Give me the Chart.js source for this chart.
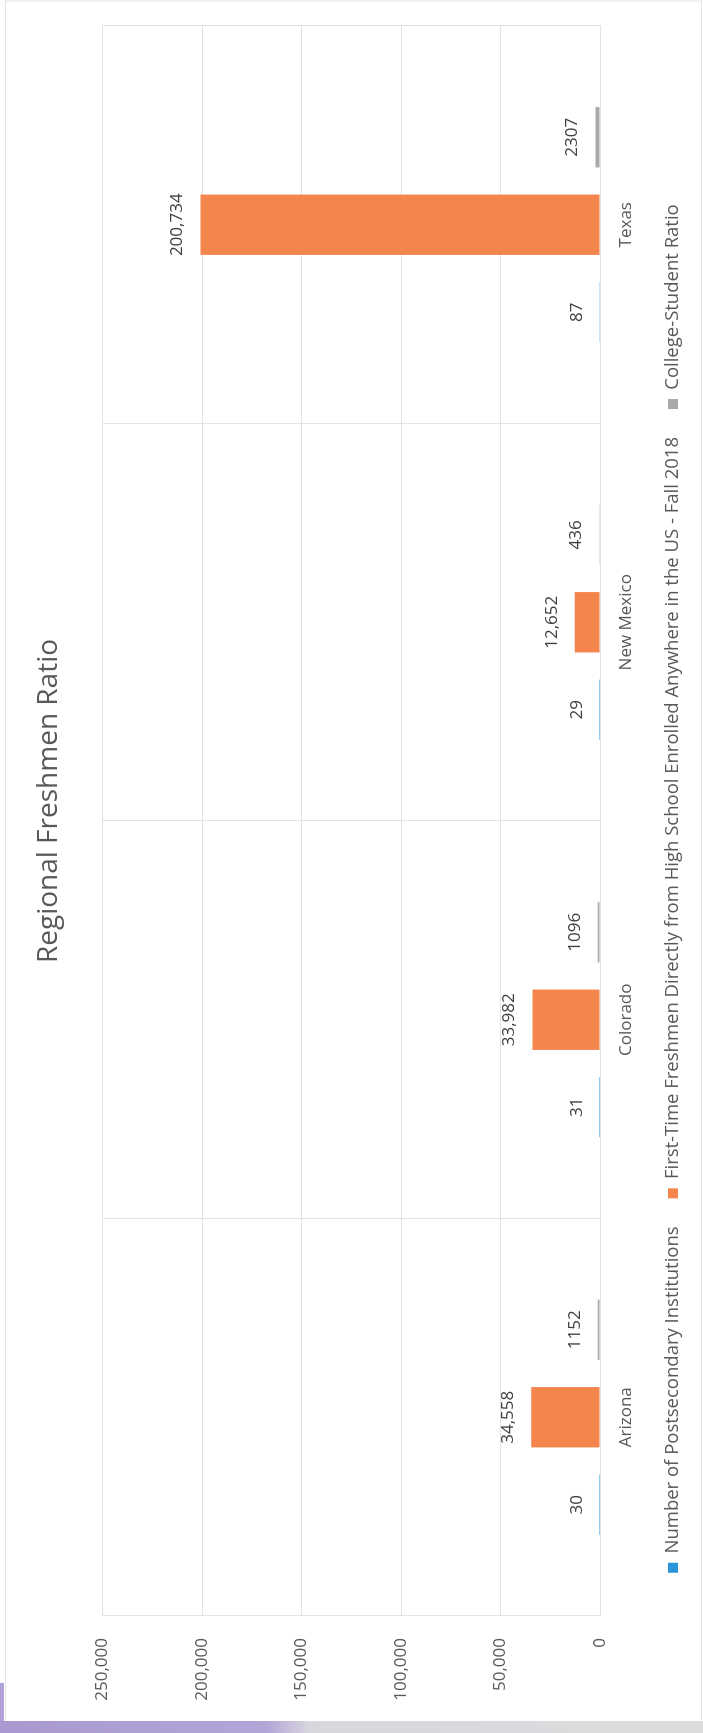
<!DOCTYPE html>
<html>
<head>
<meta charset="utf-8">
<title>Regional Freshmen Ratio</title>
<script src="https://cdn.jsdelivr.net/npm/chart.js@4.4.1/dist/chart.umd.min.js"></script>
<style>
  html, body {
    margin: 0;
    padding: 0;
    background: #ffffff;
    width: 703px;
    height: 1733px;
    overflow: hidden;
  }
  /* the chart is laid out landscape and turned a quarter turn to fit the page */
  #sheet {
    position: absolute;
    left: 0;
    top: 0;
    width: 1733px;
    height: 703px;
    transform-origin: 0 0;
    transform: translate(0, 1733px) rotate(-90deg);
  }
  #edge {
    position: absolute;
    left: 0;
    bottom: 0;
    width: 703px;
    height: 12px;
    background: linear-gradient(90deg, #a898cf 0, #b3a5d8 38%, #d9d6de 44%, #dcdcdc 100%);
  }
  #edgeSide {
    position: absolute;
    left: 0;
    bottom: 12px;
    width: 4px;
    height: 38px;
    background: #b0a2d6;
  }
</style>
</head>
<body>
<div id="sheet">
  <canvas id="freshmenChart" width="1733" height="703"></canvas>
</div>
<div id="edgeSide"></div>
<div id="edge"></div>

<script>
const states = ['Arizona', 'Colorado', 'New Mexico', 'Texas'];
const institutions = [30, 31, 29, 87];
const firstTimeFreshmen = [34558, 33982, 12652, 200734];
const collegeStudentRatio = [1152, 1096, 436, 2307];
const valueTicks = [0, 50000, 100000, 150000, 200000, 250000];

const textGray = '#595959';
const gridGray = '#e2e2e2';
const fontFamily = '"Open Sans", "Noto Sans", sans-serif';

// light frame round the whole chart
const chartFrame = {
    id: 'chartFrame',
    beforeDraw(chart) {
        const { ctx, width, height } = chart;
        ctx.save();
        ctx.fillStyle = '#ffffff';
        ctx.fillRect(0, 0, width, height);
        ctx.strokeStyle = '#e4e4e4';
        ctx.lineWidth = 1;
        ctx.strokeRect(0.5, 5.5, width - 1.5, height - 7);
        ctx.restore();
    }
};

// title sits a little right of the plot centre, legend a little left of the page centre
const boxNudge = {
    id: 'boxNudge',
    afterLayout(chart) {
        if (chart.titleBlock) {
            chart.titleBlock.left += 20;
            chart.titleBlock.right += 20;
        }
        if (chart.legend) {
            chart.legend.left -= 21;
            chart.legend.right -= 21;
        }
    }
};

// value written above every bar
const barValueLabels = {
    id: 'barValueLabels',
    afterDatasetsDraw(chart) {
        const ctx = chart.ctx;
        ctx.save();
        ctx.font = '17px ' + fontFamily;
        ctx.fillStyle = '#404040';
        ctx.textAlign = 'center';
        ctx.textBaseline = 'middle';
        chart.data.datasets.forEach((ds, i) => {
            chart.getDatasetMeta(i).data.forEach((bar, j) => {
                const v = ds.data[j];
                const text = ds.commas ? v.toLocaleString('en-US') : String(v);
                ctx.fillText(text, bar.x, bar.y - 23);
            });
        });
        ctx.restore();
    }
};

const canvas = document.getElementById('freshmenChart').getContext('2d');

const freshmenChart = new Chart(canvas, {
    type: 'bar',
    plugins: [chartFrame, boxNudge, barValueLabels],
    data: {
        labels: states,
        datasets: [
            {
                label: 'Number of Postsecondary Institutions',
                data: institutions,
                backgroundColor: '#2a95d8',
                borderWidth: 0
            },
            {
                label: 'First-Time Freshmen Directly from High School Enrolled Anywhere in the US - Fall 2018',
                data: firstTimeFreshmen,
                backgroundColor: '#f4854d',
                borderWidth: 0,
                commas: true
            },
            {
                label: 'College-Student Ratio',
                data: collegeStudentRatio,
                backgroundColor: '#a9a9a9',
                borderWidth: 0
            }
        ]
    },
    options: {
        responsive: false,
        animation: false,
        devicePixelRatio: 1,
        categoryPercentage: 0.66,
        barPercentage: 0.69,
        layout: {
            padding: { left: 24, right: 26, top: 10, bottom: 10.75 }
        },
        plugins: {
            title: {
                display: true,
                text: 'Regional Freshmen Ratio',
                fullSize: false,
                color: textGray,
                font: { family: fontFamily, size: 28, weight: 'normal' },
                padding: { top: 22, bottom: 37 }
            },
            legend: {
                display: true,
                position: 'bottom',
                labels: {
                    boxWidth: 10,
                    boxHeight: 10,
                    padding: 28,
                    color: textGray,
                    font: { family: fontFamily, size: 18.5 }
                }
            },
            tooltip: { enabled: false }
        },
        scales: {
            x: {
                grid: {
                    color: gridGray,
                    drawTicks: false
                },
                border: { color: gridGray },
                ticks: {
                    color: textGray,
                    padding: 16,
                    font: { family: fontFamily, size: 17 }
                },
                afterFit(scale) {
                    scale.height = 35.75;
                }
            },
            y: {
                min: 0,
                max: 250000,
                afterBuildTicks(scale) {
                    scale.ticks = valueTicks.map(v => ({ value: v }));
                },
                grid: {
                    color: gridGray,
                    drawTicks: false
                },
                border: { display: false },
                ticks: {
                    color: textGray,
                    padding: 22,
                    font: { family: fontFamily, size: 17 },
                    callback: function(value) {
                        return value.toLocaleString('en-US');
                    }
                },
                afterFit(scale) {
                    scale.width = 93;
                }
            }
        }
    }
});
</script>
</body>
</html>
